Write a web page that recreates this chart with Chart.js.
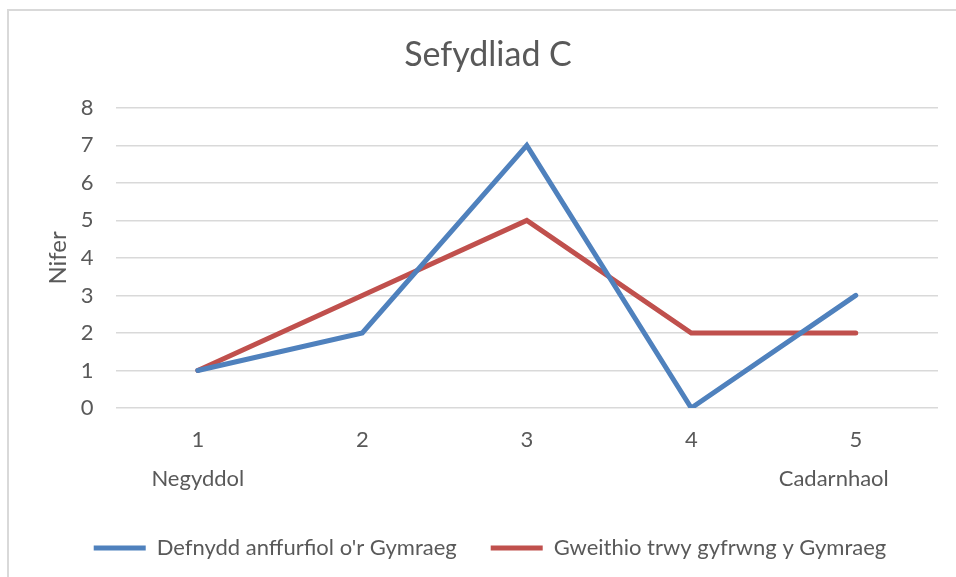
<!DOCTYPE html>
<html lang="cy">
<head>
    <meta charset="UTF-8">
    <title>Sefydliad C</title>
    <script src="https://cdn.jsdelivr.net/npm/chart.js"></script>
    <style>
        body {
            margin: 0;
            padding: 0;
            background: #ffffff;
            overflow: hidden;
        }

        .frame {
            position: absolute;
            left: 7px;
            top: 9px;
            width: 960px;
            height: 566px;
            border-left: 2px solid #d9d9d9;
            border-top: 2px solid #d9d9d9;
            pointer-events: none;
        }

        .chart-box {
            position: absolute;
            left: 0;
            top: 0;
            width: 956px;
            height: 577px;
        }
    </style>
</head>
<body>
    <div class="chart-box">
        <canvas id="lineChart" width="956" height="577"></canvas>
    </div>
    <div class="frame"></div>

    <script>
        // chart data
        var categories = ['1', '2', '3', '4', '5'];
        var endLabels = ['Negyddol', '', '', '', 'Cadarnhaol'];
        var informalUse = [1, 2, 7, 0, 3];
        var workingThrough = [1, 3, 5, 2, 2];
        var yTicks = [0, 1, 2, 3, 4, 5, 6, 7, 8];

        var textColor = '#595959';
        var fontName = 'Lato, "Liberation Sans", sans-serif';

        // nudge title and legend a little right, like the original
        var nudgeBoxes = {
            id: 'nudgeBoxes',
            afterLayout: function (chart) {
                chart.titleBlock.left += 12;
                chart.titleBlock.right += 12;
                chart.legend.left += 14;
                chart.legend.right += 14;
            }
        };

        var ctx = document.getElementById('lineChart').getContext('2d');
        var lineChart = new Chart(ctx, {
            type: 'line',
            data: {
                labels: categories,
                datasets: [{
                    label: "Defnydd anffurfiol o'r Gymraeg",
                    data: informalUse,
                    borderColor: '#4f81bd',
                    backgroundColor: '#4f81bd',
                    borderWidth: 5,
                    borderCapStyle: 'round',
                    pointRadius: 0,
                    tension: 0
                }, {
                    label: 'Gweithio trwy gyfrwng y Gymraeg',
                    data: workingThrough,
                    borderColor: '#c0504d',
                    backgroundColor: '#c0504d',
                    borderWidth: 5,
                    borderCapStyle: 'round',
                    pointRadius: 0,
                    tension: 0
                }]
            },
            options: {
                responsive: false,
                animation: false,
                layout: {
                    padding: { left: 14, right: 18, top: 10, bottom: 8 }
                },
                plugins: {
                    title: {
                        display: true,
                        text: 'Sefydliad C',
                        color: textColor,
                        font: { family: fontName, size: 34, weight: 'normal' },
                        padding: { top: 25, bottom: 32 }
                    },
                    legend: {
                        position: 'bottom',
                        labels: {
                            color: textColor,
                            font: { family: fontName, size: 22 },
                            usePointStyle: true,
                            pointStyle: 'line',
                            pointStyleWidth: 52,
                            boxHeight: 5,
                            padding: 34
                        }
                    },
                    tooltip: { enabled: false }
                },
                scales: {
                    x: {
                        offset: true,
                        grid: { display: false },
                        border: { display: false },
                        ticks: {
                            color: textColor,
                            font: { family: fontName, size: 22, lineHeight: 1.75 },
                            padding: 5,
                            callback: function (value, index) {
                                if (index === categories.length - 1) {
                                    // pull the last word a bit to the left
                                    return [categories[index], endLabels[index] + '\u2002\u2002\u2002\u2002'];
                                }
                                if (endLabels[index]) {
                                    return [categories[index], endLabels[index]];
                                }
                                return categories[index];
                            }
                        }
                    },
                    y: {
                        min: yTicks[0],
                        max: yTicks[yTicks.length - 1],
                        afterBuildTicks: function (axis) {
                            axis.ticks = yTicks.map(function (v) { return { value: v }; });
                        },
                        grid: {
                            color: '#d9d9d9',
                            lineWidth: 1.5,
                            drawTicks: false
                        },
                        border: { display: false },
                        ticks: {
                            color: textColor,
                            font: { family: fontName, size: 22 },
                            padding: 22
                        },
                        title: {
                            display: true,
                            text: 'Nifer',
                            color: textColor,
                            font: { family: fontName, size: 24 },
                            padding: { top: 29.6, bottom: -13.6 }
                        }
                    }
                }
            },
            plugins: [nudgeBoxes]
        });
    </script>
</body>
</html>
